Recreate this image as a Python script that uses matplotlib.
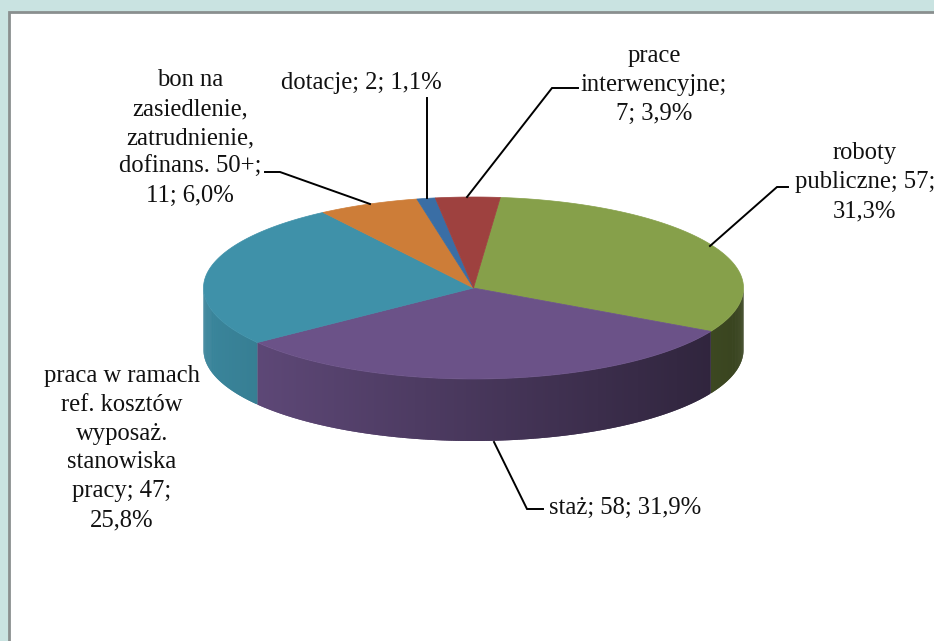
import numpy as np
import matplotlib
matplotlib.use("Agg")
import matplotlib.pyplot as plt
from matplotlib.colors import to_rgb
from matplotlib.patches import Polygon, Rectangle

# chart data, clockwise from the first slice
names = ["roboty\npubliczne; {};\n{}", "staż; {}; {}",
         "praca w ramach\nref. kosztów\nwyposaż.\nstanowiska\npracy; {};\n{}",
         "bon na\nzasiedlenie,\nzatrudnienie,\ndofinans. 50+;\n{}; {}",
         "dotacje; {}; {}", "prace\ninterwencyjne;\n{}; {}"]
counts = [57, 58, 47, 11, 2, 7]
percents = ["31,3%", "31,9%", "25,8%", "6,0%", "1,1%", "3,9%"]
colors = ["#86a04a", "#6b5288", "#3f91a9", "#cd7d38", "#3a6ea5", "#9e413f"]

# layout in pixels
cx, cy = 473.5, 288
rx, ry = 270, 91
depth = 62
start = 5.7
label_pos = [(865, 182), (625, 508), (122, 448), (190, 138), (361, 83), (654, 85)]
leaders = [[(710, 246), (777, 187), (788, 187)],
           [(494, 442), (527, 509), (543, 509)],
           None,
           [(370, 204), (280, 172), (265, 172)],
           [(427, 198), (427, 98)],
           [(467, 197), (552, 88), (578, 88)]]

plt.rcParams["font.family"] = ["Liberation Serif", "DejaVu Serif"]
fig = plt.figure(figsize=(9.34, 6.41), dpi=100, facecolor="#c9e3e1")
ax = fig.add_axes([0, 0, 1, 1])
ax.set_xlim(0, 934)
ax.set_ylim(641, 0)
ax.axis("off")

# panel, right and bottom edges run off the picture
ax.add_patch(Rectangle((9, 12), 940, 650, fc="white", ec="#8a8f8f", lw=2, zorder=0))


def point(a, dy=0):
    r = np.radians(a)
    return cx + rx * np.sin(r), cy - ry * np.cos(r) + dy


# slice angles come from the counts
edges = start + np.cumsum([0] + counts) / sum(counts) * 360

# side wall first, darker towards the right
# each strip runs a bit into the next one so no seams show
for i, c in enumerate(counts):
    a0, a1 = edges[i], edges[i + 1]
    for a in np.arange(a0, a1, 0.5):
        b = min(a + 1.0, a1)
        m = (a + b) / 2 % 360
        if not 90 <= m <= 270:
            continue
        x = np.sin(np.radians(m))
        shade = 0.67 - 0.25 * x
        col = tuple(v * shade for v in to_rgb(colors[i]))
        arc = np.linspace(a, b, 4)
        pts = [point(t) for t in arc] + [point(t, depth) for t in arc[::-1]]
        ax.add_patch(Polygon(pts, fc=col, ec="none", zorder=1))

# top of the pie
for i, c in enumerate(counts):
    arc = np.linspace(edges[i], edges[i + 1], 100)
    pts = [(cx, cy)] + [point(a) for a in arc]
    ax.add_patch(Polygon(pts, fc=colors[i], ec=colors[i], lw=0.5, zorder=2))

for line in leaders:
    if line:
        xs, ys = zip(*line)
        ax.plot(xs, ys, color="black", lw=1.4, zorder=3, solid_joinstyle="miter")

for name, c, p, (x, y) in zip(names, counts, percents, label_pos):
    ax.text(x, y, name.format(c, p), ha="center", va="center", fontsize=17.7,
            color="#111111", linespacing=1.41, zorder=4)

fig.savefig("out.png", dpi=100, facecolor=fig.get_facecolor())
